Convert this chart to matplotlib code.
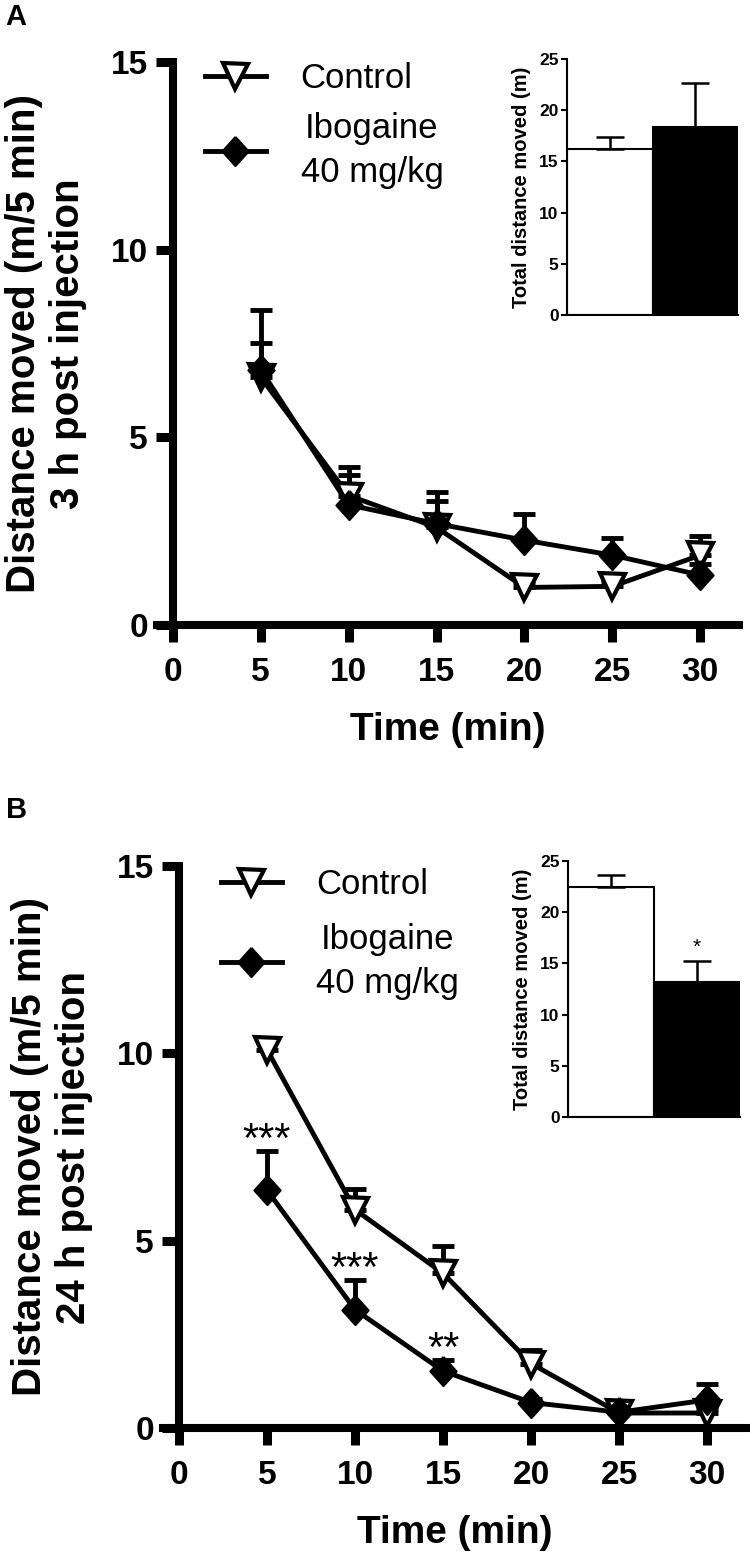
import numpy as np
import matplotlib.pyplot as plt

plt.rcParams['font.family'] = ['Liberation Sans', 'DejaVu Sans']

time_min = [5, 10, 15, 20, 25, 30]

# A: 3 h post injection
ctrl_3h = [6.6, 3.45, 2.6, 1.0, 1.03, 1.86]
ctrl_3h_sem = [0.9, 0.75, 0.7, 0.15, 0.15, 0.5]
ibo_3h = [6.8, 3.2, 2.7, 2.26, 1.86, 1.33]
ibo_3h_sem = [1.6, 0.8, 0.85, 0.7, 0.47, 0.3]
total_3h = [16.2, 18.4]
total_3h_sem = [1.15, 4.3]

# B: 24 h post injection
ctrl_24h = [10.1, 5.83, 4.13, 1.72, 0.4, 0.4]
ctrl_24h_sem = [0.2, 0.55, 0.73, 0.35, 0.1, 0.1]
ibo_24h = [6.35, 3.16, 1.52, 0.68, 0.42, 0.75]
ibo_24h_sem = [1.05, 0.8, 0.3, 0.1, 0.1, 0.42]
stars_24h = ['***', '***', '**', '', '', '']
total_24h = [22.5, 13.2]
total_24h_sem = [1.1, 2.0]
total_stars_24h = ['', '*']

W, H = 750, 1558

# slightly tall diamond, like the Prism one
DIAMOND = [(0, 1), (0.9, 0), (0, -1), (-0.9, 0), (0, 1)]


def px_rect(x0, x1, ytop, ybot):
    return [x0 / W, 1 - ybot / H, (x1 - x0) / W, (ybot - ytop) / H]


def draw_panel(fig, rect, inset_rect, ctrl, ctrl_sem, ibo, ibo_sem, totals, totals_sem,
               ylabel, leg_anchor, leg_spacing, stars=None, total_stars=None):
    ax = fig.add_axes(rect)
    zeros = np.zeros(len(time_min))
    ax.errorbar(time_min, ctrl, yerr=[zeros, ctrl_sem], fmt='none', ecolor='black',
                elinewidth=3.5, capsize=8, capthick=3.5, zorder=2, clip_on=False)
    ax.errorbar(time_min, ibo, yerr=[zeros, ibo_sem], fmt='none', ecolor='black',
                elinewidth=3.5, capsize=8, capthick=3.5, zorder=2, clip_on=False)
    ax.plot(time_min, ctrl, color='black', lw=3.5, marker='v', ms=18, mfc='white',
            mec='black', mew=3, label='Control', zorder=3, clip_on=False)
    ax.plot(time_min, ibo, color='black', lw=3.5, marker=DIAMOND, ms=21, mfc='black',
            mec='black', mew=1.5, label='Ibogaine\n40 mg/kg', zorder=4, clip_on=False)

    if stars:
        for t, m, s, lab in zip(time_min, ibo, ibo_sem, stars):
            if lab:
                ax.annotate(lab, (t, m + s), xytext=(0, 7), textcoords='offset points',
                            ha='center', va='center', fontsize=30)

    ax.set_xlim(-0.9, 32.2)
    ax.set_ylim(0, 15)
    ax.set_xticks(range(0, 31, 5))
    ax.set_yticks([0, 5, 10, 15])
    for side in ['top', 'right']:
        ax.spines[side].set_visible(False)
    ax.spines['left'].set_position(('data', 0))
    for side in ['left', 'bottom']:
        ax.spines[side].set_linewidth(5.8)
    ax.tick_params(direction='out', length=12, width=6.5, labelsize=24)
    ax.tick_params(axis='x', pad=11)
    ax.tick_params(axis='y', pad=6)
    for lab in ax.get_xticklabels() + ax.get_yticklabels():
        lab.set_fontweight('bold')
    ax.set_xlabel('Time (min)', fontsize=28, fontweight='bold', labelpad=17)
    ax.set_ylabel(ylabel, fontsize=29, fontweight='bold', labelpad=17)

    leg = ax.legend(loc='upper left', bbox_to_anchor=leg_anchor, frameon=False,
                    fontsize=25, handlelength=1.75, handletextpad=1.0, numpoints=1,
                    borderpad=0, borderaxespad=0, labelspacing=leg_spacing)
    for txt in leg.get_texts():
        txt.set_multialignment('center')
        txt.set_linespacing(1.4)

    # inset with totals
    ax_in = fig.add_axes(inset_rect)
    ax_in.bar([0, 1], totals, width=1, color=['white', 'black'], edgecolor='black',
              linewidth=1.5, yerr=[[0, 0], totals_sem], capsize=10,
              error_kw=dict(elinewidth=1.8, capthick=1.8, ecolor='black'))
    if total_stars:
        for i, (v, s, lab) in enumerate(zip(totals, totals_sem, total_stars)):
            if lab:
                ax_in.text(i, v + s + 0.4, lab, ha='center', va='bottom', fontsize=15)
    ax_in.set_xlim(-0.5, 1.5)
    ax_in.set_ylim(0, 25)
    ax_in.set_yticks(range(0, 26, 5))
    ax_in.set_xticks([])
    for side in ['top', 'right']:
        ax_in.spines[side].set_visible(False)
    for side in ['left', 'bottom']:
        ax_in.spines[side].set_linewidth(1.5)
    ax_in.tick_params(direction='out', length=4, width=1.5, labelsize=12.5, pad=2)
    for lab in ax_in.get_yticklabels():
        lab.set_fontweight('bold')
    ax_in.set_ylabel('Total distance moved (m)', fontsize=14.5, fontweight='bold', labelpad=6)
    return ax, ax_in


fig = plt.figure(figsize=(W / 100, H / 100), dpi=100)

draw_panel(fig, px_rect(157, 739, 62, 625), px_rect(567, 738, 59, 315),
           ctrl_3h, ctrl_3h_sem, ibo_3h, ibo_3h_sem, total_3h, total_3h_sem,
           'Distance moved (m/5 min)\n3 h post injection', (0.0825, 1.0), 0.5)
draw_panel(fig, px_rect(163, 746, 866, 1428), px_rect(568, 740, 861, 1117),
           ctrl_24h, ctrl_24h_sem, ibo_24h, ibo_24h_sem, total_24h, total_24h_sem,
           'Distance moved (m/5 min)\n24 h post injection', (0.0995, 0.997), 0.65,
           stars=stars_24h, total_stars=total_stars_24h)

fig.text(5 / W, 1 - 17 / H, 'A', fontsize=21, fontweight='bold', ha='left', va='center')
fig.text(6 / W, 1 - 810 / H, 'B', fontsize=21, fontweight='bold', ha='left', va='center')

fig.savefig('out.png', dpi=100)
